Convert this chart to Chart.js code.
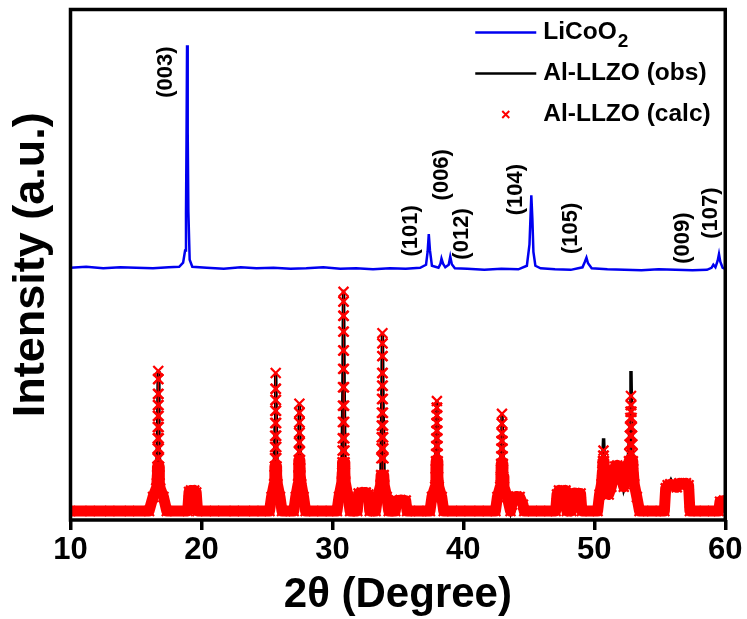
<!DOCTYPE html>
<html>
<head>
<meta charset="utf-8">
<script src="https://cdn.jsdelivr.net/npm/chart.js@4.4.0/dist/chart.umd.min.js"></script>
<style>
  html, body { margin: 0; padding: 0; background: #fff; }
  #wrap { width: 747px; height: 619px; }
</style>
</head>
<body>
<div id="wrap"><canvas id="xrd"></canvas></div>
<script>
// [2theta, intensity] pairs
const licoo2 = [
  [10, 49.4], [11.2, 49.6], [12.5, 49.3], [13.8, 49.5], [15.0, 49.4], [16.3, 49.3], [17.5, 49.5],
  [18.3, 49.6], [18.6, 50.4], [18.75, 52.8], [18.82, 60.0], [18.86, 74.5], [18.9, 93.0], [18.95, 76.0],
  [19.0, 60.5], [19.1, 51.0], [19.3, 49.6], [20.4, 49.4], [21.7, 49.2], [23.0, 49.5], [24.2, 49.3],
  [25.5, 49.4], [26.8, 49.2], [28.0, 49.3], [29.3, 49.5], [30.6, 49.2], [31.8, 49.3], [33.1, 49.1],
  [34.4, 49.3], [35.6, 49.2], [36.7, 49.4], [37.15, 50.0], [37.27, 52.5], [37.36, 56.0], [37.45, 52.8],
  [37.6, 49.8], [38.1, 49.4], [38.25, 50.2], [38.33, 51.2], [38.45, 50.2], [38.62, 49.5], [38.88, 50.0],
  [39.0, 51.6], [39.12, 50.1], [39.35, 49.3], [40.3, 49.2], [41.6, 49.0], [42.9, 49.2], [44.2, 49.1],
  [44.85, 49.8], [45.05, 54.0], [45.19, 63.6], [45.27, 59.0], [45.35, 52.5], [45.5, 49.8], [45.9, 49.3],
  [47.0, 49.1], [48.2, 49.0], [49.1, 49.5], [49.28, 50.6], [49.4, 51.4], [49.52, 50.3], [49.8, 49.3],
  [51.0, 49.1], [52.3, 49.0], [53.6, 48.9], [54.9, 49.1], [56.2, 49.0], [57.5, 48.9], [58.6, 49.0],
  [58.95, 49.4], [59.09, 50.0], [59.25, 49.5], [59.42, 50.8], [59.52, 52.1], [59.62, 50.6], [59.8, 49.4],
  [60, 49.2]
]

const llzoObs = [
  [10, 1.75], [16.0, 1.75], [16.3, 4.5], [16.55, 6], [16.65, 16], [16.7, 29.2], [16.75, 16], [16.85, 6],
  [17.1, 4.5], [17.35, 1.75],
  [18.95, 1.75], [19.05, 5.5], [19.2, 5.8], [19.3, 5.0], [19.45, 5.8], [19.6, 5.4], [19.7, 1.75],
  [25.2, 1.75], [25.35, 4.5], [25.55, 7], [25.62, 18], [25.67, 28.8], [25.72, 18], [25.8, 7], [26.0, 4.5],
  [26.15, 1.75],
  [27.05, 1.75], [27.2, 4.5], [27.38, 7], [27.44, 16], [27.48, 22.8], [27.53, 15], [27.62, 7], [27.8, 4.5],
  [27.95, 1.75],
  [30.35, 1.75], [30.5, 4.5], [30.72, 8], [30.8, 25], [30.85, 45.1], [30.9, 25], [30.98, 8], [31.2, 4.5],
  [31.35, 1.75],
  [31.9, 1.75], [32.0, 5.2], [32.25, 5.4], [32.4, 4.8], [32.55, 5.4], [32.75, 5.0], [32.85, 1.75],
  [33.3, 1.75], [33.45, 4.5], [33.7, 8], [33.77, 22], [33.82, 36.6], [33.87, 22], [33.95, 8], [34.15, 4.5],
  [34.3, 1.75],
  [34.8, 1.75], [34.9, 3.8], [35.2, 3.9], [35.6, 3.8], [35.7, 1.75],
  [37.45, 1.75], [37.6, 4.5], [37.85, 7], [37.93, 16], [37.98, 23.3], [38.03, 16], [38.12, 7], [38.35, 4.5],
  [38.5, 1.75],
  [42.45, 1.75], [42.6, 4.5], [42.82, 7], [42.9, 15], [42.95, 20.8], [43.0, 15], [43.1, 7], [43.35, 4.5],
  [43.6, 1.75], [43.7, 3.0], [43.8, 4.4], [44.3, 4.5], [44.55, 3.0], [44.65, 1.75],
  [47.05, 1.75], [47.15, 5.0], [47.3, 5.8], [47.55, 5.5], [47.8, 5.8], [47.9, 1.75],
  [48.25, 1.75], [48.35, 5.0], [48.5, 5.3], [48.75, 5.1], [48.95, 5.2], [49.05, 1.75],
  [50.25, 1.75], [50.4, 5], [50.6, 8], [50.66, 13], [50.71, 16.0], [50.76, 12], [50.85, 8], [51.1, 5],
  [51.3, 6], [51.55, 10.5], [51.75, 10.7], [51.95, 10.5], [52.25, 6], [52.5, 8], [52.73, 18], [52.8, 29.2],
  [52.86, 18], [53.0, 7], [53.25, 4.5], [53.45, 1.75],
  [55.35, 1.75], [55.45, 6.5], [55.7, 7.0], [55.85, 7.8], [56.0, 7.0], [56.3, 6.6], [56.5, 7.2], [57.0, 7.2],
  [57.2, 6.8], [57.3, 1.75],
  [59.5, 1.75], [59.6, 3.6], [59.9, 3.8], [60, 3.5]
]

const llzoCalc = [
  [10, 1.75], [11.5, 1.75], [13, 1.75], [14.5, 1.75], [16.0, 1.75], [16.3, 4.5], [16.55, 6.2], [16.6, 7.2],
  [16.63, 8.8], [16.64, 10.4], [16.65, 12.1], [16.655, 14.0], [16.66, 16.0], [16.665, 18.2], [16.67, 20.4],
  [16.675, 22.5], [16.68, 24.7], [16.69, 27.6], [16.7, 29.2],
  [16.71, 27.6], [16.72, 24.7], [16.725, 22.5], [16.73, 20.4], [16.735, 18.2], [16.74, 16.0], [16.745, 14.0],
  [16.75, 12.1], [16.76, 10.4], [16.77, 8.8], [16.8, 7.2],
  [16.85, 6.2], [17.1, 4.5], [17.35, 1.75],
  [18.95, 1.75], [19.05, 5.5], [19.2, 5.8], [19.3, 5.0], [19.45, 5.8], [19.6, 5.4], [19.7, 1.75],
  [21, 1.75], [22.5, 1.75], [24, 1.75],
  [25.2, 1.75], [25.35, 4.5], [25.55, 7], [25.6, 8.8], [25.61, 10.5], [25.62, 12.1], [25.625, 14.3],
  [25.63, 16.5], [25.635, 19.0], [25.64, 21.4], [25.65, 23.5],
  [25.655, 25.7], [25.67, 28.8], [25.685, 25.7], [25.69, 23.5], [25.7, 21.4], [25.705, 19.0], [25.71, 16.5],
  [25.715, 14.3], [25.72, 12.1], [25.73, 10.5], [25.74, 8.8],
  [25.8, 7], [26.0, 4.5], [26.15, 1.75],
  [27.05, 1.75], [27.2, 4.5], [27.38, 7], [27.42, 8.8], [27.43, 10.2], [27.44, 11.7], [27.45, 13.4],
  [27.455, 15.2], [27.46, 17.1], [27.465, 19.1], [27.47, 21.0],
  [27.48, 22.8], [27.49, 21.0], [27.495, 19.1], [27.5, 17.1], [27.505, 15.2], [27.51, 13.4], [27.52, 11.7],
  [27.53, 10.2], [27.54, 8.8], [27.62, 7], [27.8, 4.5],
  [27.95, 1.75], [29.2, 1.75],
  [30.35, 1.75], [30.5, 4.5], [30.72, 7.4], [30.75, 9.3], [30.77, 11.3], [30.78, 13.6], [30.79, 16.0],
  [30.8, 19.2], [30.805, 22.4], [30.81, 26.0], [30.82, 29.6], [30.825, 33.2],
  [30.83, 36.9], [30.835, 40.0], [30.84, 42.8], [30.85, 44.7], [30.86, 42.8], [30.865, 40.0], [30.87, 36.9],
  [30.875, 33.2], [30.88, 29.6], [30.89, 26.0], [30.895, 22.4], [30.9, 19.2],
  [30.91, 16.0], [30.92, 13.6], [30.93, 11.3], [30.95, 9.3], [30.98, 7.4], [31.2, 4.5], [31.35, 1.75],
  [31.9, 1.75], [32.0, 5.2], [32.25, 5.4], [32.4, 4.8], [32.55, 5.4], [32.75, 5.0], [32.85, 1.75],
  [33.3, 1.75], [33.45, 4.5], [33.68, 6.8], [33.72, 8.8], [33.74, 12.1], [33.755, 14.0], [33.765, 16.2],
  [33.77, 18.5],
  [33.78, 21.0], [33.79, 23.7], [33.8, 26.3], [33.805, 28.8], [33.81, 32.1], [33.815, 34.6], [33.82, 36.6],
  [33.83, 34.6], [33.835, 32.1], [33.84, 28.8], [33.845, 26.3], [33.85, 23.7], [33.86, 21.0], [33.87, 18.5],
  [33.875, 16.2], [33.885, 14.0], [33.9, 12.1], [33.92, 8.8], [33.96, 6.8], [34.15, 4.5], [34.3, 1.75],
  [34.8, 1.75], [34.9, 3.8], [35.2, 3.9], [35.6, 3.8], [35.7, 1.75], [36.6, 1.75],
  [37.45, 1.75], [37.6, 4.5], [37.85, 6.5], [37.9, 8.5], [37.91, 10.0], [37.92, 11.5], [37.93, 13.0],
  [37.935, 14.5], [37.94, 16.0], [37.95, 17.5], [37.955, 19.0],
  [37.965, 20.5], [37.97, 22.0], [37.98, 23.3], [37.99, 22.0], [37.995, 20.5], [38.0, 19.0], [38.01, 17.5],
  [38.015, 16.0], [38.025, 14.5], [38.03, 13.0], [38.04, 11.5], [38.05, 10.0], [38.06, 8.5],
  [38.12, 6.5], [38.35, 4.5], [38.5, 1.75], [39.8, 1.75], [41.2, 1.75],
  [42.45, 1.75], [42.6, 4.5], [42.82, 6.5], [42.87, 8.5], [42.88, 9.8], [42.89, 11], [42.9, 12.5],
  [42.91, 14], [42.915, 15.5], [42.925, 17], [42.935, 18.9],
  [42.95, 20.8], [42.965, 18.9], [42.975, 17], [42.985, 15.5], [42.99, 14], [43.0, 12.5], [43.01, 11],
  [43.02, 9.8], [43.03, 8.5], [43.1, 6.5], [43.35, 4.5],
  [43.6, 1.75], [43.7, 3.0], [43.8, 4.4], [44.05, 4.6], [44.3, 4.5], [44.55, 3.0], [44.65, 1.75],
  [45.9, 1.75],
  [47.05, 1.75], [47.15, 5.0], [47.3, 5.8], [47.55, 5.5], [47.8, 5.8], [47.9, 1.75],
  [48.25, 1.75], [48.35, 5.0], [48.5, 5.3], [48.75, 5.1], [48.95, 5.2], [49.05, 1.75],
  [50.25, 1.75], [50.4, 5], [50.55, 7], [50.62, 9.5], [50.64, 10.5], [50.66, 11.5], [50.68, 12.6],
  [50.7, 13.6], [50.72, 12.6], [50.74, 11.5], [50.76, 10.5],
  [50.78, 9.5], [50.85, 7], [51.1, 5], [51.3, 6.5], [51.45, 8.5], [51.6, 10.5], [51.75, 10.7], [51.9, 10.5],
  [52.05, 8.5], [52.25, 6.5], [52.5, 8], [52.62, 10], [52.65, 11.5], [52.68, 13], [52.7, 14.8], [52.72, 16.5],
  [52.735, 18.2], [52.75, 20], [52.765, 21.2], [52.78, 22.5],
  [52.8, 24.3], [52.82, 22.5], [52.835, 21.2], [52.85, 20], [52.865, 18.2], [52.88, 16.5], [52.9, 14.8],
  [52.92, 13], [52.94, 11.5], [52.96, 10], [53.05, 7], [53.25, 4.5],
  [53.45, 1.75], [54.4, 1.75],
  [55.35, 1.75], [55.45, 6.2], [55.6, 6.8], [55.8, 7.0], [56.0, 6.8], [56.3, 6.4], [56.5, 7.2], [56.75, 7.0],
  [57.0, 7.2], [57.2, 6.8], [57.3, 1.75], [58.4, 1.75],
  [59.5, 1.75], [59.6, 3.6], [59.9, 3.8], [60, 3.5]
]

const peakLabels = ['(003)', '(101)', '(006)', '(012)', '(104)', '(105)', '(009)', '(107)']
// where each rotated label starts (2theta, intensity)
const peakLabelAt = [[17.32, 82.7], [36.0, 51.6], [38.35, 62.6], [39.88, 51.0], [44.0, 59.7], [48.19, 52.1], [56.8, 50.2], [58.93, 55.1]]

const xTicks = [10, 20, 30, 40, 50, 60]

const FONT = '"Liberation Sans", Arial, sans-serif'
const BLUE = '#0000f0'
const RED = '#ff0000'

const pts = arr => arr.map(p => ({ x: p[0], y: p[1] }))

const framePlugin = {
  id: 'frame',
  afterDraw(chart) {
    const { ctx, chartArea: a } = chart
    ctx.save()
    ctx.strokeStyle = '#000'
    ctx.lineWidth = 3.5
    ctx.strokeRect(a.left, a.top, a.right - a.left, a.bottom - a.top)
    ctx.restore()
  }
}

const peakLabelPlugin = {
  id: 'peakLabels',
  afterDatasetsDraw(chart) {
    const { ctx, scales } = chart
    ctx.save()
    ctx.font = `bold 22px ${FONT}`
    ctx.fillStyle = '#000'
    ctx.textAlign = 'left'
    ctx.textBaseline = 'middle'
    peakLabels.forEach((txt, i) => {
      const px = scales.x.getPixelForValue(peakLabelAt[i][0])
      const py = scales.y.getPixelForValue(peakLabelAt[i][1])
      ctx.save()
      ctx.translate(px, py)
      ctx.rotate(-Math.PI / 2)
      ctx.fillText(txt, 0, 0)
      ctx.restore()
    })
    ctx.restore()
  }
}

// legend sits inside the top right corner of the plot
const legendPlugin = {
  id: 'cornerLegend',
  afterDraw(chart) {
    const { ctx, chartArea: a } = chart
    const ds = chart.data.datasets
    const x0 = a.right - 250
    const tx = x0 + 68
    const rows = [
      { y: a.top + 23, kind: 'line', color: BLUE, label: 'LiCoO', sub: '2' },
      { y: a.top + 64, kind: 'line', color: '#000', label: ds[1].label },
      { y: a.top + 105, kind: 'cross', color: RED, label: ds[3].label }
    ]
    ctx.save()
    ctx.textAlign = 'left'
    ctx.textBaseline = 'middle'
    ctx.fillStyle = '#000'
    for (const r of rows) {
      ctx.strokeStyle = r.color
      if (r.kind === 'line') {
        ctx.lineWidth = 2.5
        ctx.beginPath()
        ctx.moveTo(x0, r.y)
        ctx.lineTo(x0 + 61, r.y)
        ctx.stroke()
      } else {
        const cx = x0 + 30.5
        ctx.lineWidth = 2
        ctx.beginPath()
        ctx.moveTo(cx - 3.5, r.y - 3.5); ctx.lineTo(cx + 3.5, r.y + 3.5)
        ctx.moveTo(cx - 3.5, r.y + 3.5); ctx.lineTo(cx + 3.5, r.y - 3.5)
        ctx.stroke()
      }
      ctx.font = `bold 24.5px ${FONT}`
      ctx.fillText(r.label, tx, r.y)
      if (r.sub) {
        const w = ctx.measureText(r.label).width
        ctx.font = `bold 19px ${FONT}`
        ctx.fillText(r.sub, tx + w + 1, r.y + 9)
      }
    }
    ctx.restore()
  }
}

// thick red band only where the calc curve stays near the baseline
const lowSeg = ctx => (ctx.p0.parsed.y < 12 && ctx.p1.parsed.y < 12) ? 11 : 0.5

new Chart(document.getElementById('xrd'), {
  type: 'line',
  data: {
    datasets: [
      { label: 'LiCoO\u2082', data: pts(licoo2), borderColor: BLUE, borderWidth: 2.5, pointRadius: 0, order: 3 },
      { label: 'Al-LLZO (obs)', data: pts(llzoObs), borderColor: '#000', borderWidth: 3.5, pointRadius: 0, order: 2 },
      { label: 'Al-LLZO (calc)', data: pts(llzoCalc), borderColor: RED, borderWidth: 11, pointRadius: 0,
        borderJoinStyle: 'round', borderCapStyle: 'round', segment: { borderWidth: lowSeg }, order: 1 },
      { label: 'Al-LLZO (calc)', data: pts(llzoCalc), showLine: false, pointStyle: 'crossRot', pointRadius: 7,
        pointBorderWidth: 2.2, pointBorderColor: RED, pointBackgroundColor: RED, order: 0 }
    ]
  },
  options: {
    responsive: true,
    maintainAspectRatio: false,
    animation: false,
    devicePixelRatio: 1,
    layout: { padding: { left: 4.4, right: 19.5, top: 9.5, bottom: 0 } },
    plugins: { legend: { display: false }, tooltip: { enabled: false } },
    elements: { line: { tension: 0 } },
    scales: {
      x: {
        type: 'linear', min: 10, max: 60,
        afterBuildTicks: s => { s.ticks = xTicks.map(v => ({ value: v })) },
        ticks: { color: '#000', padding: 4.5, font: { family: FONT, size: 31, weight: 'bold', lineHeight: 1 } },
        grid: { display: true, drawOnChartArea: false, drawTicks: true, tickLength: 10, color: '#000', lineWidth: 3.5 },
        border: { display: false },
        title: { display: true, text: '2θ (Degree)', color: '#000', padding: { top: 4.5, bottom: 2.5 },
          font: { family: FONT, size: 42, weight: 'bold', lineHeight: 1 } }
      },
      y: {
        min: 0, max: 100,
        ticks: { display: false },
        grid: { display: false, drawTicks: false },
        border: { display: false },
        title: { display: true, text: 'Intensity (a.u.)', color: '#000', padding: { top: 0, bottom: 12.1 },
          font: { family: FONT, size: 45, weight: 'bold', lineHeight: 1.2 } }
      }
    }
  },
  plugins: [framePlugin, peakLabelPlugin, legendPlugin]
})
</script>
</body>
</html>
